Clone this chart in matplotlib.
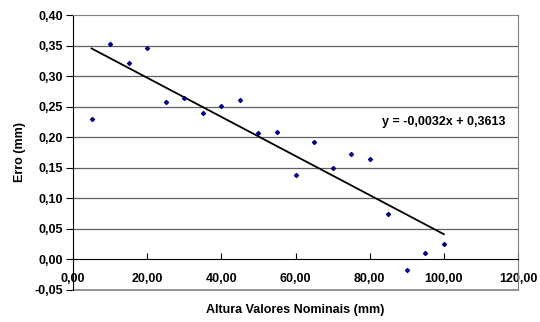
import matplotlib
matplotlib.use("Agg")
import matplotlib.pyplot as plt
from matplotlib.ticker import FuncFormatter

plt.rcParams["font.family"] = ["Liberation Sans", "DejaVu Sans"]
plt.rcParams["font.weight"] = "bold"

altura = [5, 10, 15, 20, 25, 30, 35, 40, 45, 50,
          55, 60, 65, 70, 75, 80, 85, 90, 95, 100]
erro = [0.230, 0.353, 0.321, 0.346, 0.257, 0.264, 0.239, 0.251, 0.261, 0.207,
        0.209, 0.139, 0.193, 0.150, 0.172, 0.164, 0.074, -0.018, 0.011, 0.025]
slope = -0.0032
intercept = 0.3613
eq_label = "y = -0,0032x + 0,3613"

fig = plt.figure(figsize=(5.4, 3.22), dpi=100)
ax = fig.add_axes([73 / 540, 1 - 290 / 322, 445 / 540, 275 / 322])

ax.set_xlim(0, 120)
ax.set_ylim(-0.05, 0.40)
ax.set_xticks([0, 20, 40, 60, 80, 100, 120])
ax.set_yticks([-0.05, 0, 0.05, 0.10, 0.15, 0.20, 0.25, 0.30, 0.35, 0.40])
comma = lambda fmt: FuncFormatter(lambda v, p: (fmt % v).replace(".", ","))
ax.xaxis.set_major_formatter(comma("%.2f"))
ax.yaxis.set_major_formatter(comma("%.2f"))

for y in [0.05, 0.10, 0.15, 0.20, 0.25, 0.30, 0.35]:
    ax.axhline(y, color="#606060", lw=0.9, zorder=1)

ax.spines["bottom"].set_position(("data", 0))
ax.spines["bottom"].set_color("black")
ax.spines["left"].set_color("black")
for s in ["top", "right"]:
    ax.spines[s].set_color("#808080")
ax.axhline(-0.05, color="#808080", lw=1.2, clip_on=False)

ax.tick_params(axis="x", direction="in", length=4, labelsize=9, pad=10)
ax.tick_params(axis="y", direction="out", length=5, labelsize=9, pad=2)
for lab in ax.get_xticklabels() + ax.get_yticklabels():
    lab.set_fontweight("bold")

ax.scatter(altura, erro, marker="D", s=4, color="#000080", zorder=3)
xs = [altura[0], altura[-1]]
ax.plot(xs, [slope * x + intercept for x in xs], color="black", lw=1.3, zorder=2)

ax.text(100, 0.2245, eq_label, ha="center", va="center", fontsize=9,
        fontweight="bold")

ax.set_ylabel("Erro (mm)", fontsize=9, fontweight="bold", labelpad=6)
fig.text(295 / 540, 1 - 310 / 322, "Altura Valores Nominais (mm)", ha="center",
         va="center", fontsize=9, fontweight="bold")

fig.savefig("out.png", dpi=100)
